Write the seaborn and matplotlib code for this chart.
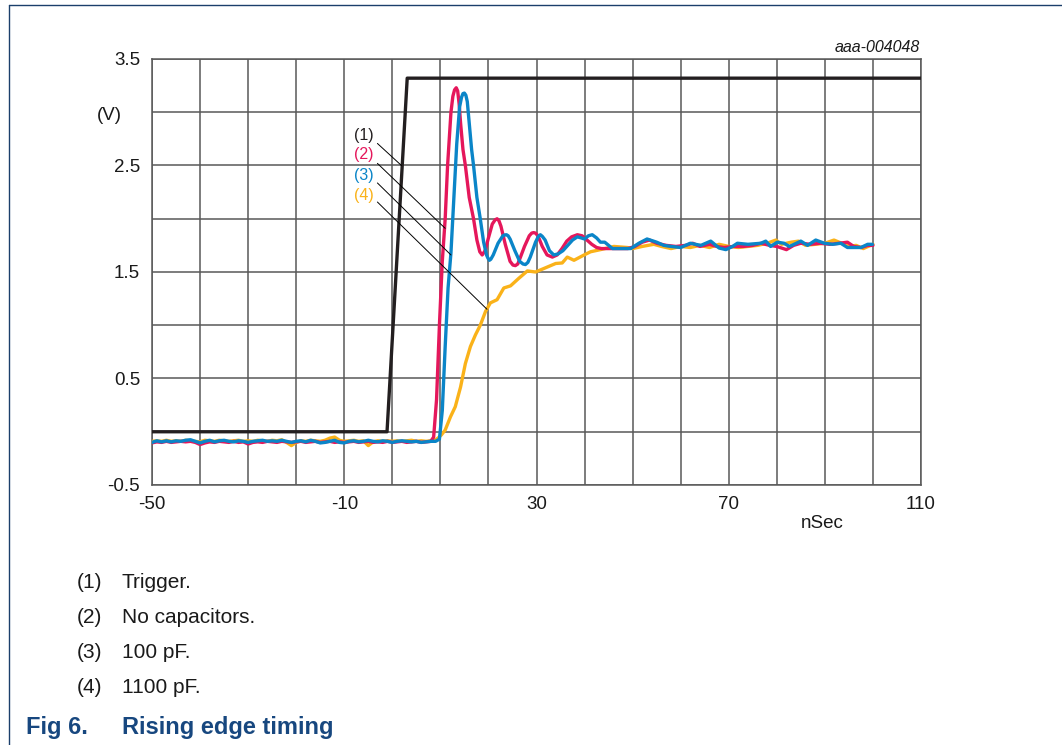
import numpy as np
import pandas as pd
import matplotlib
matplotlib.use("Agg")
import matplotlib.pyplot as plt
from matplotlib.lines import Line2D
import seaborn as sns

# ---------------- data ----------------
trigger_t = [-50, -1.1, 3.1, 110]
trigger_v = [0.0, 0.0, 3.32, 3.32]

base_t = list(range(-50, 9))

red_base = [-0.105, -0.095, -0.1, -0.09, -0.1, -0.095, -0.09, -0.095, -0.09, -0.1,
            -0.12, -0.105, -0.095, -0.1, -0.09, -0.095, -0.1, -0.09, -0.1, -0.095,
            -0.115, -0.1, -0.095, -0.1, -0.09, -0.095, -0.1, -0.09, -0.095, -0.1,
            -0.095, -0.09, -0.1, -0.095, -0.09, -0.1, -0.095, -0.09, -0.1, -0.095,
            -0.1, -0.095, -0.09, -0.1, -0.095, -0.09, -0.1, -0.095, -0.1, -0.09,
            -0.1, -0.095, -0.09, -0.1, -0.095, -0.09, -0.1, -0.095, -0.09]
red_t2 = [8.6, 9.2, 9.8, 10.4, 11.0, 11.5, 12.2, 12.6, 12.95, 13.3, 13.6, 13.9, 14.2, 14.7,
          15.2, 16.0, 16.9, 17.6, 18.2, 18.7, 19.3, 20.0, 20.8, 21.4, 21.8, 22.2, 22.6,
          23.5, 24.5, 25.1, 25.6, 26.1, 26.5, 27.5, 28.5, 29.0, 29.4, 29.8, 30.3, 31.2,
          32.2, 33.3, 34.3, 35.3, 36.3, 37.3, 38.5, 39.5, 40.5, 41.5, 42.5, 43.5, 45, 47,
          49, 50.5, 52, 53.5, 55, 57, 59, 61, 62.5, 64, 66, 67.5, 69, 71, 73, 75, 76.7,
          78.5, 80, 82, 83.5, 85, 87, 89, 91, 93, 94.7, 96, 97.5, 99, 100]
red_v2 = [-0.05, 0.3, 1.0, 1.6, 2.0, 2.5, 3.0, 3.15, 3.21, 3.23, 3.2, 3.08, 2.9, 2.65,
          2.5, 2.2, 2.0, 1.8, 1.69, 1.66, 1.70, 1.82, 1.95, 1.99, 2.0, 1.98, 1.93,
          1.76, 1.6, 1.565, 1.56, 1.575, 1.62, 1.74, 1.84, 1.865, 1.87, 1.865, 1.84, 1.74,
          1.66, 1.64, 1.66, 1.72, 1.79, 1.83, 1.85, 1.84, 1.80, 1.76, 1.73, 1.72, 1.72,
          1.72, 1.72, 1.74, 1.78, 1.80, 1.77, 1.75, 1.74, 1.75, 1.77, 1.74, 1.76, 1.74,
          1.73, 1.74, 1.74, 1.75, 1.77, 1.75, 1.74, 1.71, 1.75, 1.77, 1.76, 1.77, 1.76,
          1.77, 1.78, 1.74, 1.73, 1.75, 1.75]

blue_base = [-0.1, -0.085, -0.095, -0.085, -0.095, -0.085, -0.09, -0.08, -0.075, -0.09,
             -0.105, -0.09, -0.08, -0.095, -0.085, -0.08, -0.09, -0.095, -0.085, -0.09,
             -0.1, -0.09, -0.085, -0.08, -0.09, -0.085, -0.09, -0.08, -0.09, -0.1,
             -0.09, -0.085, -0.095, -0.08, -0.09, -0.105, -0.1, -0.09, -0.08, -0.1,
             -0.105, -0.09, -0.085, -0.095, -0.09, -0.08, -0.09, -0.095, -0.085, -0.09,
             -0.1, -0.09, -0.085, -0.09, -0.095, -0.09, -0.1, -0.095, -0.09]
blue_t2 = [9, 9.8, 10.4, 11.0, 11.6, 12.2, 12.8, 13.4, 14.0, 14.4, 14.7, 15.0, 15.3, 15.6,
           16.0, 16.5, 16.9, 17.6, 18.3, 19.0, 19.6, 19.9, 20.2, 20.5, 21.0, 22.0, 23.0,
           23.4, 23.75, 24.1, 24.5, 25.5, 26.5, 27.2, 27.7, 28.2, 28.7, 29.8, 30.4, 30.8,
           31.2, 31.8, 32.7, 33.6, 34.5, 35.5, 36.5, 37.5, 38.5, 39.3, 40.0, 40.8, 41.6,
           42.5, 43.3, 44.2, 45.0, 45.8, 47.5, 49.6, 51.3, 53, 55, 56.5, 58, 60, 62, 64.2,
           66.25, 68.0, 69.4, 70.8, 71.8, 74, 76.7, 77.7, 78.7, 80.1, 81.5, 82.6, 83.6,
           85.0, 86.4, 88.1, 89.9, 91.6, 93.3, 94.7, 96.1, 97.5, 98.9, 99.9]
blue_v2 = [-0.09, -0.07, 0.2, 0.8, 1.35, 1.68, 2.2, 2.7, 3.05, 3.14, 3.175, 3.18, 3.16, 3.1,
           2.9, 2.65, 2.5, 2.2, 2.0, 1.78, 1.66, 1.63, 1.61, 1.62, 1.66, 1.77, 1.84,
           1.848, 1.85, 1.84, 1.81, 1.70, 1.60, 1.575, 1.57, 1.59, 1.64, 1.78, 1.835, 1.85,
           1.835, 1.80, 1.70, 1.66, 1.67, 1.70, 1.75, 1.80, 1.83, 1.82, 1.81, 1.84, 1.85,
           1.82, 1.78, 1.78, 1.75, 1.72, 1.72, 1.72, 1.77, 1.81, 1.78, 1.75, 1.74, 1.73,
           1.77, 1.75, 1.79, 1.725, 1.71, 1.74, 1.77, 1.76, 1.77, 1.79, 1.74, 1.78, 1.77,
           1.74, 1.76, 1.79, 1.75, 1.80, 1.77, 1.76, 1.77, 1.73, 1.73, 1.73, 1.76, 1.76]

orange_base = [-0.09, -0.085, -0.09, -0.08, -0.09, -0.085, -0.09, -0.08, -0.085, -0.09,
               -0.095, -0.08, -0.085, -0.09, -0.08, -0.085, -0.09, -0.085, -0.08, -0.09,
               -0.085, -0.09, -0.08, -0.085, -0.09, -0.08, -0.085, -0.075, -0.1, -0.13,
               -0.1, -0.085, -0.09, -0.08, -0.085, -0.09, -0.08, -0.06, -0.05, -0.08,
               -0.09, -0.085, -0.08, -0.09, -0.085, -0.13, -0.095, -0.085, -0.09, -0.085,
               -0.09, -0.085, -0.09, -0.085, -0.08, -0.09, -0.085, -0.09, -0.085]
orange_t2 = [9, 9.5, 10.2, 11.0, 12.1, 13.1, 14.2, 15.2, 16.25, 17.3, 18.3, 19.4, 20.4,
             21.8, 23.2, 24.6, 26.3, 28.1, 29.8, 31.9, 34.0, 35.35, 36.4, 37.8, 39.9,
             41.25, 43.3, 46.1, 48.9, 50, 52, 54.4, 56, 58, 60, 62, 64, 66, 68, 70, 72,
             74, 76, 78, 79.8, 81, 83, 84.5, 86, 88, 90, 91.9, 93.5, 95, 96.5, 98, 99, 100]
orange_v2 = [-0.075, -0.06, -0.03, 0.016, 0.14, 0.235, 0.42, 0.64, 0.80, 0.91, 1.0, 1.13,
             1.21, 1.24, 1.35, 1.37, 1.44, 1.51, 1.50, 1.54, 1.58, 1.585, 1.64, 1.61, 1.66,
             1.69, 1.71, 1.74, 1.73, 1.72, 1.74, 1.76, 1.74, 1.72, 1.74, 1.73, 1.75, 1.73,
             1.76, 1.74, 1.73, 1.74, 1.75, 1.77, 1.80, 1.76, 1.78, 1.79, 1.75, 1.76, 1.77,
             1.80, 1.77, 1.74, 1.75, 1.72, 1.74, 1.76]

x_ticks = list(range(-50, 111, 10))
x_labels = ["-50", "", "", "", "-10", "", "", "", "30", "", "", "", "70", "", "", "", "110"]
y_ticks = [-0.5, 0.0, 0.5, 1.0, 1.5, 2.0, 2.5, 3.0, 3.5]
y_labels = ["-0.5", "", "0.5", "", "1.5", "", "2.5", "", "3.5"]

curve_tags = ["(1)", "(2)", "(3)", "(4)"]
tag_y = [2.78, 2.60, 2.41, 2.22]
leader_start_y = [2.707, 2.52, 2.336, 2.157]
leader_end = [(1.9, 2.5), (11.0, 1.91), (12.2, 1.66), (19.7, 1.15)]

notes_num = ["(1)", "(2)", "(3)", "(4)"]
notes_txt = ["Trigger.", "No capacitors.", "100 pF.", "1100 pF."]

# ---------------- style ----------------
sns.set_theme(style="white")
plt.rcParams['font.family'] = ['Liberation Sans', 'DejaVu Sans']

C_TRIG = "#231f20"
C_RED = "#e5175b"
C_BLUE = "#0a85c8"
C_ORANGE = "#fab219"
C_GRID = "#585858"
C_FRAME = "#1b3f6b"
C_TITLE = "#17477f"

W, H = 1062, 745
fig = plt.figure(figsize=(W / 100, H / 100), dpi=100)
fig.patch.set_facecolor("white")
ax = fig.add_axes([152 / W, 1 - 485 / H, (921 - 152) / W, (485 - 59) / H])

series = [
    (base_t + orange_t2, orange_base + orange_v2, C_ORANGE),
    (base_t + red_t2, red_base + red_v2, C_RED),
    (base_t + blue_t2, blue_base + blue_v2, C_BLUE),
]
for t, v, c in series:
    df = pd.DataFrame({"t": t, "v": v})
    sns.lineplot(data=df, x="t", y="v", ax=ax, color=c, lw=2.4, estimator=None,
                 sort=False, legend=False, solid_joinstyle="round", zorder=3)

dft = pd.DataFrame({"t": trigger_t, "v": trigger_v})
sns.lineplot(data=dft, x="t", y="v", ax=ax, color=C_TRIG, lw=2.4, estimator=None,
             sort=False, legend=False, zorder=4)

ax.set_xlim(-50, 110)
ax.set_ylim(-0.5, 3.5)
ax.set_xticks(x_ticks)
ax.set_xticklabels(x_labels)
ax.set_yticks(y_ticks)
ax.set_yticklabels(y_labels)
ax.tick_params(axis="both", length=0, labelsize=13.5, colors="#1a1a1a")
ax.tick_params(axis="x", pad=8)
ax.tick_params(axis="y", pad=8.5)
ax.set_xlabel("")
ax.set_ylabel("")
ax.grid(True, color=C_GRID, lw=1.1)
ax.set_axisbelow(True)
for s in ax.spines.values():
    s.set_color(C_GRID)
    s.set_linewidth(1.1)

# curve tags with leader lines
tag_colors = [C_TRIG, C_RED, C_BLUE, C_ORANGE]
for lab, ty, sy, (ex, ey), c in zip(curve_tags, tag_y, leader_start_y, leader_end, tag_colors):
    ax.text(-6.0, ty, lab, color=c, fontsize=11.5, ha="center", va="center", zorder=6,
            bbox=dict(facecolor="white", edgecolor="none", pad=0.5))
    ax.plot([-3.1, ex], [sy, ey], color="black", lw=0.7, zorder=5)

# axis annotations
fig.text(122 / W, 1 - 115 / H, "(V)", fontsize=13.5, ha="right", va="center", color="#1a1a1a")
fig.text(822 / W, 1 - 523 / H, "nSec", fontsize=13.5, ha="center", va="center", color="#1a1a1a")
fig.text(920 / W, 1 - 47 / H, "aaa-004048", fontsize=11.5, style="italic", ha="right",
         va="center", color="#1a1a1a")

# footnotes
base_y = [588.5, 623, 658, 693]
for num, txt, by in zip(notes_num, notes_txt, base_y):
    fig.text(77 / W, 1 - by / H, num, fontsize=15, ha="left", va="baseline", color="#1a1a1a")
    fig.text(122 / W, 1 - by / H, txt, fontsize=15, ha="left", va="baseline", color="#1a1a1a")
fig.text(26 / W, 1 - 734 / H, "Fig 6.", fontsize=17, fontweight="bold", ha="left",
         va="baseline", color=C_TITLE)
fig.text(122 / W, 1 - 734 / H, "Rising edge timing", fontsize=17, fontweight="bold",
         ha="left", va="baseline", color=C_TITLE)

# figure frame (top and left rule)
fig.add_artist(Line2D([9 / W, 9 / W], [1 - 5 / H, 0], color=C_FRAME, lw=1.0,
                      transform=fig.transFigure))
fig.add_artist(Line2D([9 / W, 1], [1 - 5 / H, 1 - 5 / H], color=C_FRAME, lw=1.0,
                      transform=fig.transFigure))

fig.savefig("out.png", dpi=100)
